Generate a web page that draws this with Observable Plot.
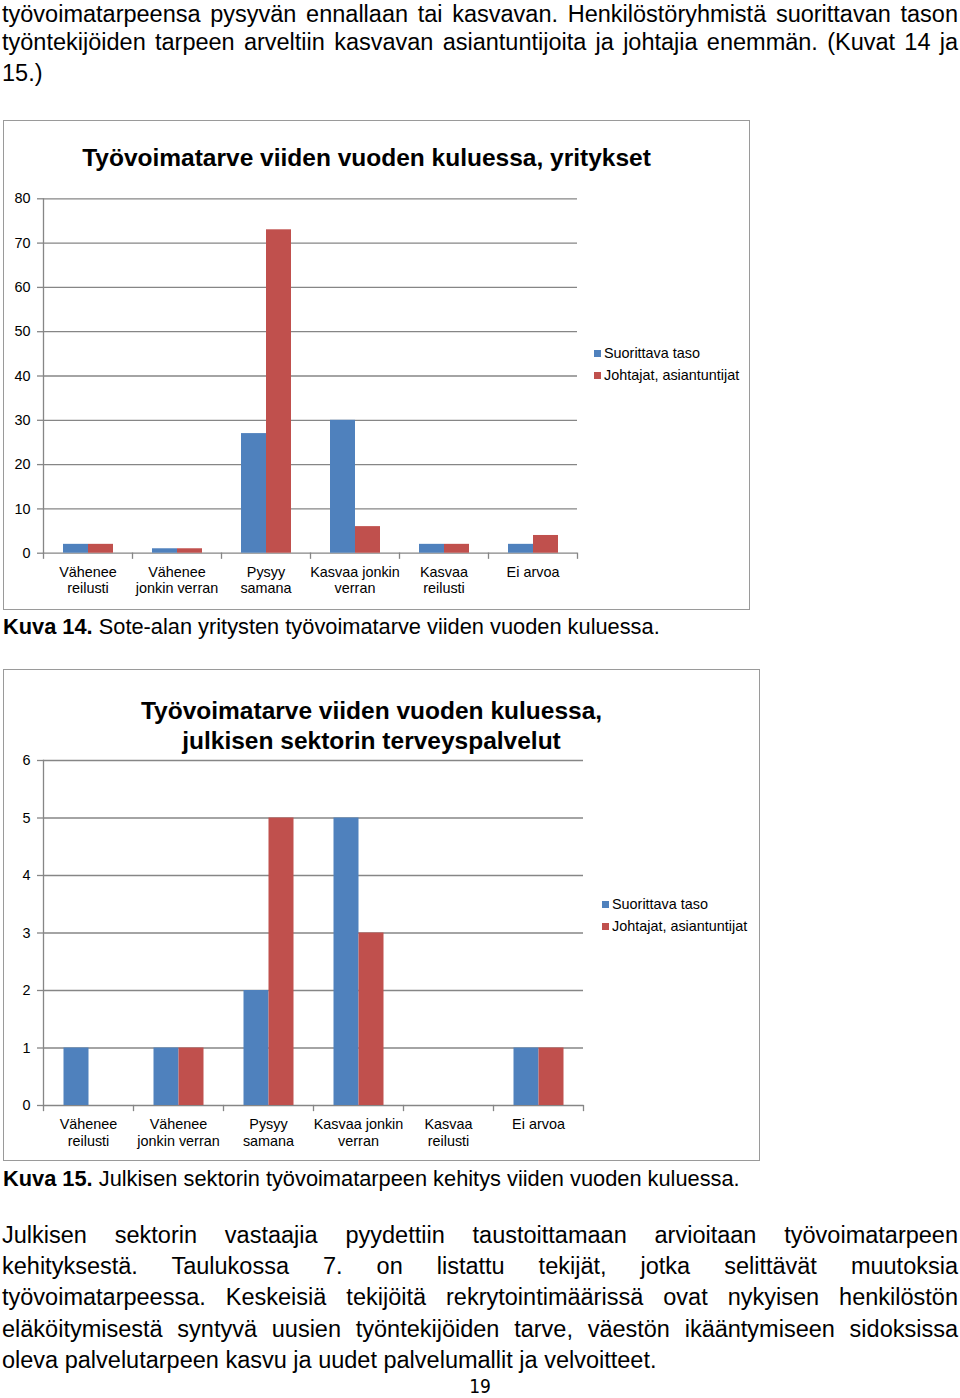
<!DOCTYPE html>
<html>
<head>
<meta charset="utf-8">
<script src="https://cdn.jsdelivr.net/npm/d3@7"></script>
<script src="https://cdn.jsdelivr.net/npm/@observablehq/plot@0.6"></script>
<style>
  html, body { margin: 0; padding: 0; background: #fff; }
  #page { position: relative; width: 960px; height: 1398px; overflow: hidden; font-family: "Liberation Sans", Arial, sans-serif; color: #000; }
  .line { position: absolute; left: 2px; font-size: 23.5px; line-height: 22px; height: 22px; white-space: nowrap; }
  .box { position: absolute; border: 1.5px solid #9a9a9a; box-sizing: border-box; }
  .title { position: absolute; width: 640px; text-align: center; font-weight: bold; font-size: 24.5px; line-height: 30px; white-space: nowrap; }
  .caption { position: absolute; left: 3px; font-size: 21.8px; line-height: 24px; white-space: nowrap; }
  .legend { position: absolute; font-size: 14.4px; line-height: 22px; white-space: nowrap; }
  .legend .sw { display: inline-block; width: 7px; height: 7px; margin-right: 3px; vertical-align: 1px; }
  .pagenum { position: absolute; left: 0; width: 960px; text-align: center; top: 1377px; font-size: 19px; line-height: 18px; font-family: "DejaVu Sans Condensed", "Liberation Sans Narrow", "Liberation Sans", sans-serif; }
</style>
</head>
<body>
<div id="page"></div>
<script>
// ---- data ----
const categories = ["Vähenee reilusti", "Vähenee jonkin verran", "Pysyy samana", "Kasvaa jonkin verran", "Kasvaa reilusti", "Ei arvoa"];
const categoryLabels = ["Vähenee\nreilusti", "Vähenee\njonkin verran", "Pysyy\nsamana", "Kasvaa jonkin\nverran", "Kasvaa\nreilusti", "Ei arvoa"];
const series = ["Suorittava taso", "Johtajat, asiantuntijat"];
const seriesColors = ["#4F81BD", "#C0504D"];

const yrityksetSuorittava = [2, 1, 27, 30, 2, 2];
const yrityksetJohtajat = [2, 1, 73, 6, 2, 4];
const yrityksetTicks = [0, 10, 20, 30, 40, 50, 60, 70, 80];

const julkinenSuorittava = [1, 1, 2, 5, 0, 1];
const julkinenJohtajat = [0, 1, 5, 3, 0, 1];
const julkinenTicks = [0, 1, 2, 3, 4, 5, 6];

const title1 = ["Työvoimatarve viiden vuoden kuluessa, yritykset"];
const title2 = ["Työvoimatarve viiden vuoden kuluessa,", "julkisen sektorin terveyspalvelut"];

const para1 = [
  "työvoimatarpeensa pysyvän ennallaan tai kasvavan. Henkilöstöryhmistä suorittavan tason",
  "työntekijöiden tarpeen arveltiin kasvavan asiantuntijoita ja johtajia enemmän. (Kuvat 14 ja",
  "15.)"
];
const para2 = [
  "Julkisen sektorin vastaajia pyydettiin taustoittamaan arvioitaan työvoimatarpeen",
  "kehityksestä. Taulukossa 7. on listattu tekijät, jotka selittävät muutoksia",
  "työvoimatarpeessa. Keskeisiä tekijöitä rekrytointimäärissä ovat nykyisen henkilöstön",
  "eläköitymisestä syntyvä uusien työntekijöiden tarve, väestön ikääntymiseen sidoksissa",
  "oleva palvelutarpeen kasvu ja uudet palvelumallit ja velvoitteet."
];
const caption1 = ["Kuva 14.", " Sote-alan yritysten työvoimatarve viiden vuoden kuluessa."];
const caption2 = ["Kuva 15.", " Julkisen sektorin työvoimatarpeen kehitys viiden vuoden kuluessa."];
const pageNumber = "19";

// ---- page text ----
const page = document.getElementById("page");
const textWidth = 956;
function addLines(lines, tops) {
  lines.forEach((t, i) => {
    const d = document.createElement("div");
    d.className = "line";
    d.style.top = tops[i] + "px";
    const span = document.createElement("span");
    span.textContent = t;
    d.appendChild(span);
    page.appendChild(d);
    const w = span.getBoundingClientRect().width;
    const justify = i < lines.length - 1;
    if (w > textWidth) {
      const fs = parseFloat(getComputedStyle(d).fontSize);
      d.style.fontSize = (fs * textWidth / w) + "px";
    } else if (justify) {
      const gaps = (t.match(/ /g) || []).length;
      if (gaps > 0) d.style.wordSpacing = ((textWidth - w) / gaps) + "px";
    }
  });
}
addLines(para1, [3, 31, 62]);
addLines(para2, [1224, 1255.2, 1286.4, 1317.6, 1348.8]);

function addCaption(parts, top) {
  const d = document.createElement("div");
  d.className = "caption";
  d.style.top = top + "px";
  const b = document.createElement("b");
  b.textContent = parts[0];
  d.appendChild(b);
  d.appendChild(document.createTextNode(parts[1]));
  page.appendChild(d);
}
addCaption(caption1, 615);
addCaption(caption2, 1167);

const pn = document.createElement("div");
pn.className = "pagenum";
pn.textContent = pageNumber;
page.appendChild(pn);

// ---- charts ----
function addBox(left, top, w, h) {
  const b = document.createElement("div");
  b.className = "box";
  Object.assign(b.style, {left: left + "px", top: top + "px", width: w + "px", height: h + "px"});
  page.appendChild(b);
}
function addTitle(lines, center, top) {
  const t = document.createElement("div");
  t.className = "title";
  t.style.left = (center - 320) + "px";
  t.style.top = top + "px";
  lines.forEach(l => {
    const row = document.createElement("div");
    row.textContent = l;
    t.appendChild(row);
  });
  page.appendChild(t);
}
function addLegend(left, top) {
  const lg = document.createElement("div");
  lg.className = "legend";
  lg.style.left = left + "px";
  lg.style.top = top + "px";
  series.forEach((s, i) => {
    const row = document.createElement("div");
    const sw = document.createElement("span");
    sw.className = "sw";
    sw.style.background = seriesColors[i];
    row.appendChild(sw);
    row.appendChild(document.createTextNode(s));
    lg.appendChild(row);
  });
  page.appendChild(lg);
}

function drawChart({top, width, height, marginLeft, marginRight, marginTop, marginBottom, yTicks, suorittava, johtajat, paddingOuter}) {
  const data = categories.flatMap((c, i) => [
    {category: c, series: series[0], value: suorittava[i]},
    {category: c, series: series[1], value: johtajat[i]}
  ]);
  const labels = categories.map((c, i) => ({category: c, label: categoryLabels[i]}));
  const plotH = height - marginTop - marginBottom;
  const axisColor = "#868686";
  const chart = Plot.plot({
    width, height, marginLeft, marginRight, marginTop, marginBottom,
    style: {fontFamily: "'Liberation Sans', Arial, sans-serif", fontSize: "14.4px", color: "#000", background: "transparent", overflow: "visible"},
    fx: {domain: categories, padding: 0, axis: null, label: null},
    x: {domain: series, paddingInner: 0, paddingOuter, axis: null, label: null},
    y: {domain: [0, d3.max(yTicks)], axis: null, label: null},
    color: {domain: series, range: seriesColors},
    marks: [
      Plot.gridY(yTicks, {stroke: axisColor, strokeOpacity: 1, strokeWidth: 1.3}),
      Plot.barY(data, {fx: "category", x: "series", y: "value", fill: "series"}),
      Plot.frame({anchor: "left", facetAnchor: "left", stroke: axisColor, strokeWidth: 1.3}),
      Plot.frame({anchor: "left", stroke: axisColor, strokeWidth: 1.3, insetTop: plotH, insetBottom: -5}),
      Plot.frame({anchor: "right", facetAnchor: "right", stroke: axisColor, strokeWidth: 1.3, insetTop: plotH, insetBottom: -5}),
      Plot.axisY(yTicks, {label: null, tickSize: 6, tickPadding: 7, stroke: axisColor, strokeWidth: 1.3, fontSize: 14.4, tickFormat: d => String(d)}),
      Plot.text(labels, {fx: "category", text: "label", frameAnchor: "bottom", lineAnchor: "top", dy: 12.5, lineHeight: 1.12, fontSize: 14.4, fill: "#000"})
    ]
  });
  chart.style.position = "absolute";
  chart.style.left = "0px";
  chart.style.top = top + "px";
  page.appendChild(chart);
}

// Chart 14
addBox(3, 120, 747, 490);
addTitle(title1, 366.5, 143);
drawChart({
  top: 120, width: 760, height: 490,
  marginLeft: 42, marginRight: 183, marginTop: 78.3, marginBottom: 57.3,
  yTicks: yrityksetTicks, suorittava: yrityksetSuorittava, johtajat: yrityksetJohtajat,
  paddingOuter: 0.75
});
addLegend(594, 342);

// Chart 15
addBox(3, 669, 757, 492);
addTitle(title2, 371.5, 696);
drawChart({
  top: 669, width: 770, height: 495,
  marginLeft: 42.5, marginRight: 185.7, marginTop: 91, marginBottom: 59,
  yTicks: julkinenTicks, suorittava: julkinenSuorittava, johtajat: julkinenJohtajat,
  paddingOuter: 0.77
});
addLegend(602, 893);
</script>
</body>
</html>
